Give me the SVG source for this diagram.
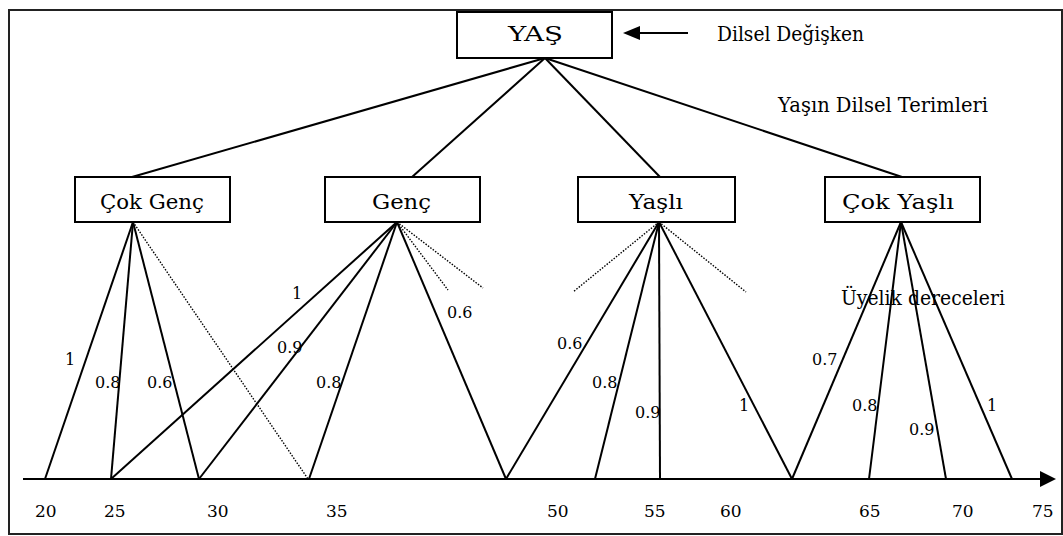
<svg xmlns="http://www.w3.org/2000/svg" width="1063" height="536" viewBox="0 0 1063 536">
  <style>
    .frame { fill: #ffffff; stroke: #222; stroke-width: 2; }
    .box { fill: #ffffff; stroke: #000; stroke-width: 2; }
    .line { stroke: #000; stroke-width: 2; fill: none; }
    .dot { stroke: #000; stroke-width: 1.4; stroke-dasharray: 1.5 1.5; fill: none; }
    text { font-family: "DejaVu Serif", serif; fill: #000; }
    .big { font-size: 20px; }
    .deg { font-size: 16px; }
    .ax { font-size: 17px; }
  </style>

  <!-- outer frame -->
  <rect class="frame" x="9" y="10" width="1053" height="524"/>

  <!-- connectors -->
  <g id="connectors">
    <!-- variable to linguistic terms -->
    <line class="line" x1="545" y1="58" x2="132" y2="177"/>
    <line class="line" x1="545" y1="58" x2="412" y2="177"/>
    <line class="line" x1="545" y1="58" x2="660" y2="177"/>
    <line class="line" x1="545" y1="58" x2="902" y2="177"/>
    <!-- pointer to "Dilsel Değişken" -->
    <line class="line" x1="688" y1="33" x2="638" y2="33"/>
    <path d="M623,33 L640,26 L640,40 Z" fill="#000"/>

    <!-- age axis -->
    <line class="line" x1="23" y1="479" x2="1042" y2="479"/>
    <path d="M1056,479 L1040,471 L1040,487 Z" fill="#000"/>

    <!-- Çok Genç -->
    <line class="line" x1="133" y1="222" x2="45" y2="479"/>
    <line class="line" x1="133" y1="222" x2="111" y2="479"/>
    <line class="line" x1="133" y1="222" x2="199" y2="479"/>
    <line class="dot" x1="133" y1="222" x2="308" y2="479"/>

    <!-- Genç -->
    <line class="line" x1="397" y1="222" x2="111" y2="479"/>
    <line class="line" x1="397" y1="222" x2="199" y2="479"/>
    <line class="line" x1="397" y1="222" x2="309" y2="479"/>
    <line class="line" x1="397" y1="222" x2="506" y2="479"/>
    <line class="dot" x1="397" y1="222" x2="448" y2="290"/>
    <line class="dot" x1="397" y1="222" x2="483" y2="288"/>

    <!-- Yaşlı -->
    <line class="line" x1="659" y1="222" x2="506" y2="479"/>
    <line class="line" x1="659" y1="222" x2="595" y2="479"/>
    <line class="line" x1="659" y1="222" x2="660" y2="479"/>
    <line class="line" x1="659" y1="222" x2="792" y2="479"/>
    <line class="dot" x1="659" y1="222" x2="573" y2="292"/>
    <line class="dot" x1="659" y1="222" x2="746" y2="292"/>

    <!-- Çok Yaşlı -->
    <line class="line" x1="901" y1="222" x2="792" y2="479"/>
    <line class="line" x1="901" y1="222" x2="869" y2="479"/>
    <line class="line" x1="901" y1="222" x2="946" y2="479"/>
    <line class="line" x1="901" y1="222" x2="1012" y2="479"/>
  </g>

  <!-- nodes -->
  <g id="node-yas">
    <rect class="box" x="457" y="12" width="155" height="46"/>
    <text class="big" x="508" y="41" textLength="55" lengthAdjust="spacingAndGlyphs">YAŞ</text>
  </g>
  <g id="node-cok-genc">
    <rect class="box" x="75" y="177" width="155" height="45"/>
    <text class="big" x="100" y="209" textLength="104" lengthAdjust="spacingAndGlyphs">Çok Genç</text>
  </g>
  <g id="node-genc">
    <rect class="box" x="325" y="177" width="155" height="45"/>
    <text class="big" x="372" y="209" textLength="59" lengthAdjust="spacingAndGlyphs">Genç</text>
  </g>
  <g id="node-yasli">
    <rect class="box" x="578" y="177" width="157" height="45"/>
    <text class="big" x="629" y="209" textLength="54" lengthAdjust="spacingAndGlyphs">Yaşlı</text>
  </g>
  <g id="node-cok-yasli">
    <rect class="box" x="825" y="177" width="155" height="45"/>
    <text class="big" x="842" y="209" textLength="112" lengthAdjust="spacingAndGlyphs">Çok Yaşlı</text>
  </g>

  <!-- annotations -->
  <g id="annotations">
    <text class="big" x="717" y="41" textLength="147" lengthAdjust="spacingAndGlyphs">Dilsel Değişken</text>
    <text class="big" x="778" y="112" textLength="210" lengthAdjust="spacingAndGlyphs">Yaşın Dilsel Terimleri</text>
    <text class="big" x="841" y="305" textLength="164" lengthAdjust="spacingAndGlyphs">Üyelik dereceleri</text>
  </g>

  <!-- membership degrees -->
  <g id="degrees">
    <text class="deg" x="65" y="365">1</text>
    <text class="deg" x="95" y="388">0.8</text>
    <text class="deg" x="147" y="388">0.6</text>
    <text class="deg" x="292" y="299">1</text>
    <text class="deg" x="277" y="353">0.9</text>
    <text class="deg" x="316" y="388">0.8</text>
    <text class="deg" x="447" y="318">0.6</text>
    <text class="deg" x="557" y="349">0.6</text>
    <text class="deg" x="592" y="388">0.8</text>
    <text class="deg" x="635" y="418">0.9</text>
    <text class="deg" x="739" y="411">1</text>
    <text class="deg" x="812" y="365">0.7</text>
    <text class="deg" x="852" y="411">0.8</text>
    <text class="deg" x="909" y="435">0.9</text>
    <text class="deg" x="987" y="411">1</text>
  </g>

  <!-- axis values -->
  <g id="axis-values">
    <text class="ax" x="35" y="517">20</text>
    <text class="ax" x="104" y="517">25</text>
    <text class="ax" x="207" y="517">30</text>
    <text class="ax" x="326" y="517">35</text>
    <text class="ax" x="547" y="517">50</text>
    <text class="ax" x="644" y="517">55</text>
    <text class="ax" x="720" y="517">60</text>
    <text class="ax" x="859" y="517">65</text>
    <text class="ax" x="952" y="517">70</text>
    <text class="ax" x="1032" y="517">75</text>
  </g>
</svg>
